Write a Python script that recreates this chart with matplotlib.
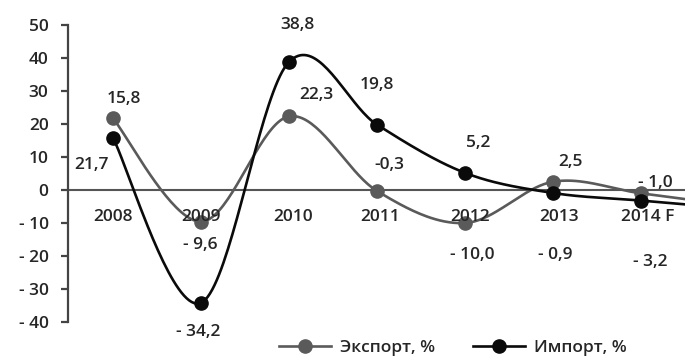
import numpy as np
import matplotlib
matplotlib.use("Agg")
import matplotlib.pyplot as plt
from matplotlib.lines import Line2D

years = ["2008", "2009", "2010", "2011", "2012", "2013", "2014 F"]
export_vals = [21.7, -9.6, 22.3, -0.3, -10.0, 2.5, -1.0]
import_vals = [15.8, -34.2, 38.8, 19.8, 5.2, -0.9, -3.2]
export_labels = ["21,7", "- 9,6", "22,3", "-0,3", "- 10,0", "2,5", "- 1,0"]
import_labels = ["15,8", "- 34,2", "38,8", "19,8", "5,2", "- 0,9", "- 3,2"]
yticks = [50, 40, 30, 20, 10, 0, -10, -20, -30, -40]
ytick_labels = ["50", "40", "30", "20", "10", "0", "- 10", "- 20", "- 30", "- 40"]
series_names = ["Экспорт, %", "Импорт, %"]

# label offsets in pixels (dx, dy) relative to points
export_off = [(-21, -47), (-1, -23), (27, 21), (12, 26), (7, -32), (17, 20), (14, 10)]
import_off = [(11, 39), (-3, -29), (8, 37), (0, 40), (13, 30), (2, -62), (9, -61)]

plt.rcParams['font.family'] = ['Open Sans', 'DejaVu Sans']
plt.rcParams['font.weight'] = 'semibold'
TXT = '#262626'
FS = 12.5

def catmull(xs, ys, n=40):
    xs = np.asarray(xs, float); ys = np.asarray(ys, float)
    xs = np.append(xs, 2 * xs[-1] - xs[-2])
    ys = np.append(ys, 2 * ys[-1] - ys[-2])
    P = np.column_stack([xs, ys])
    P = np.vstack([P[0], P, P[-1]])
    out = []
    for i in range(1, len(P) - 2):
        p0, p1, p2, p3 = P[i - 1], P[i], P[i + 1], P[i + 2]
        t = np.linspace(0, 1, n)[:, None]
        seg = 0.5 * ((2 * p1) + (-p0 + p2) * t + (2 * p0 - 5 * p1 + 4 * p2 - p3) * t ** 2
                     + (-p0 + 3 * p1 - 3 * p2 + p3) * t ** 3)
        out.append(seg)
    out = np.vstack(out)
    return out[:, 0], out[:, 1]

fig = plt.figure(figsize=(6.85, 3.56), dpi=100)
ax = fig.add_axes([68 / 685, 34 / 356, 617 / 685, 297 / 356])
x = np.arange(len(years))
ax.set_xlim(-0.511, 6.5)
ax.set_ylim(-40, 50)

for s in ['top', 'right', 'bottom']:
    ax.spines[s].set_visible(False)
ax.spines['left'].set_color('#444444')
ax.spines['left'].set_linewidth(1.6)
ax.set_xticks([])
ax.set_yticks(yticks)
ax.set_yticklabels(ytick_labels, fontsize=FS, color=TXT)
ax.tick_params(axis='y', length=5, width=1.6, color='#444444', pad=9)
ax.axhline(0, color='#555555', lw=1.5, zorder=1)

ecol = '#5a5a5a'
icol = '#0a0a0a'
for vals, col, labels, offs in [(export_vals, ecol, export_labels, export_off),
                                 (import_vals, icol, import_labels, import_off)]:
    cx, cy = catmull(x, vals)
    ax.plot(cx, cy, color=col, lw=1.9, zorder=2)
    ax.plot(x, vals, 'o', color=col, ms=9.5, zorder=3)
    for xi, v, lab, (dx, dy) in zip(x, vals, labels, offs):
        ax.annotate(lab, (xi, v), xytext=(dx, dy), textcoords='offset pixels',
                    ha='center', va='center', fontsize=FS, color=TXT,
                    annotation_clip=False)

year_dx = [0, 0, 4, 3, 5, 6, 7]
for xi, yr, dx in zip(x, years, year_dx):
    ax.annotate(yr, (xi, 0), xytext=(dx, -27), textcoords='offset pixels',
                ha='center', va='center', fontsize=FS, color=TXT, annotation_clip=False)

handles = [Line2D([], [], color=ecol, lw=1.9, marker='o', ms=9.5),
           Line2D([], [], color=icol, lw=1.9, marker='o', ms=9.5)]
fig.legend(handles, series_names, loc='center', bbox_to_anchor=(453 / 685, 8 / 356),
           ncol=2, frameon=False, fontsize=FS, handlelength=3.0, handletextpad=0.5,
           columnspacing=2.2, labelcolor=TXT)

fig.savefig('out.png', dpi=100)
